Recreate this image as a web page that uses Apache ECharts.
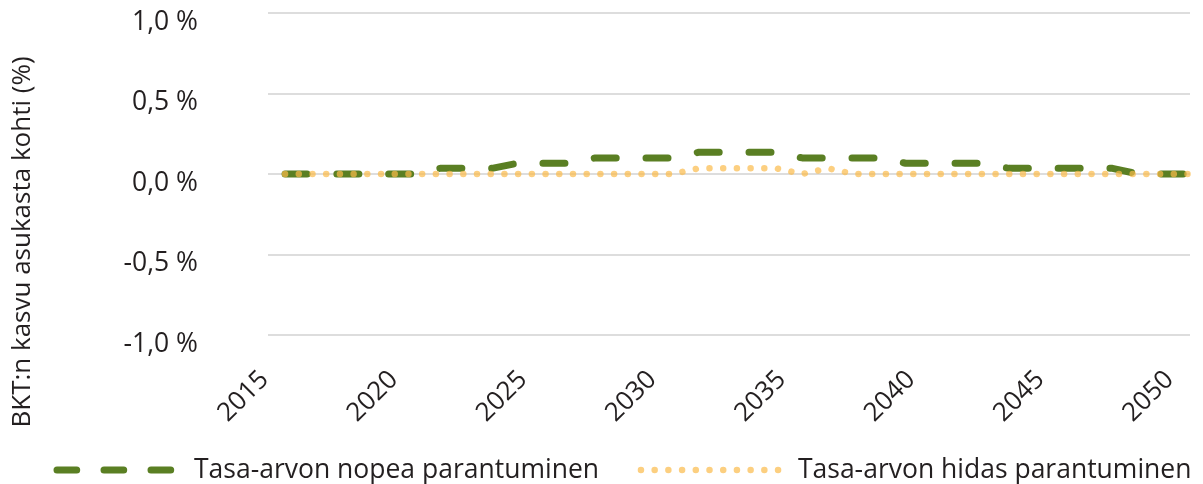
<!DOCTYPE html>
<html><head><meta charset="utf-8">
<script src="https://cdn.jsdelivr.net/npm/echarts@6/dist/echarts.min.js"></script>
<style>html,body{margin:0;padding:0;background:#fff}#c{width:1203px;height:484px}</style>
</head><body><div id="c"></div>
<script>
const years = [2015,2016,2017,2018,2019,2020,2021,2022,2023,2024,2025,2026,2027,2028,2029,2030,2031,2032,2033,2034,2035,2036,2037,2038,2039,2040,2041,2042,2043,2044,2045,2046,2047,2048,2049,2050];
const fastValues = [0,0,0,0,0,0,0.035,0.035,0.035,0.067,0.067,0.067,0.10,0.10,0.10,0.10,0.135,0.135,0.135,0.135,0.10,0.10,0.10,0.10,0.067,0.067,0.067,0.067,0.035,0.035,0.035,0.035,0.035,0,0,0];
const slowValues = [0,0,0,0,0,0,0,0,0,0,0,0,0,0,0,0,0.035,0.035,0.035,0.035,0,0.035,0,0,0,0,0,0,0,0,0,0,0,0,0,0];
const xLabelYears = [2015,2020,2025,2030,2035,2040,2045,2050];
const seriesNames = ['Tasa-arvon nopea parantuminen','Tasa-arvon hidas parantuminen'];
const yAxisTitle = 'BKT:n kasvu asukasta kohti (%)';

const FONT = 'Open Sans';
const TXT = '#231f20';
const GREEN = '#5a7f23';
const YELLOW = 'rgba(251,186,74,0.7)';
const XMIN = 2014.34, XMAX = 2050;

const chart = echarts.init(document.getElementById('c'), null, {renderer: 'canvas'});
chart.setOption({
  animation: false,
  backgroundColor: '#fff',
  grid: {left: 268, right: 13, top: 13, bottom: 149, containLabel: false},
  xAxis: {
    type: 'value', min: XMIN, max: XMAX,
    axisLine: {show: false}, axisTick: {show: false}, splitLine: {show: false},
    axisLabel: {
      customValues: xLabelYears,
      formatter: v => String(Math.round(v)),
      rotate: 45, margin: 20, padding: [0, 29, 0, 0],
      fontFamily: FONT, fontSize: 26, color: TXT
    }
  },
  yAxis: {
    type: 'value', min: -1, max: 1, interval: 0.5,
    axisLine: {show: false}, axisTick: {show: false},
    splitLine: {lineStyle: {color: '#d2d2d2', width: 1.5}},
    axisLabel: {
      formatter: v => v.toFixed(1).replace('.', ',') + ' %',
      margin: 70, verticalAlign: 'top', lineHeight: 18,
      fontFamily: FONT, fontSize: 26.5, color: TXT
    }
  },
  graphic: [{
    type: 'text', x: 23, y: 242, rotation: Math.PI / 2,
    style: {text: yAxisTitle, font: '26px "Open Sans"', fill: TXT, align: 'center', verticalAlign: 'middle'}
  }],
  legend: [
    {
      data: [seriesNames[0]], left: 53.5, top: 456.5, padding: 0,
      itemWidth: 132, itemHeight: 14,
      itemStyle: {opacity: 0},
      lineStyle: {width: 7, type: [19.7, 27.3], cap: 'round'},
      textStyle: {fontFamily: FONT, fontSize: 26.5, color: TXT}
    },
    {
      data: [seriesNames[1]], left: 637.7, top: 456.5, padding: 0,
      itemWidth: 145, itemHeight: 14,
      itemStyle: {opacity: 0},
      lineStyle: {width: 6.5, type: [0.01, 13.7], cap: 'round'},
      textStyle: {fontFamily: FONT, fontSize: 26.5, color: TXT, padding: [0, 0, 0, 7]}
    }
  ],
  series: [
    {
      name: seriesNames[0], type: 'line', symbol: 'none',
      data: years.map((y, i) => [y, fastValues[i]]),
      color: GREEN,
      lineStyle: {color: GREEN, width: 7, type: [22, 29.8], cap: 'round', join: 'round'}
    },
    {
      name: seriesNames[1], type: 'line', symbol: 'none',
      data: years.map((y, i) => [y, slowValues[i]]),
      color: YELLOW,
      lineStyle: {color: YELLOW, width: 6.5, type: [0.01, 13.7], cap: 'round', join: 'round'}
    }
  ]
});
</script></body></html>
